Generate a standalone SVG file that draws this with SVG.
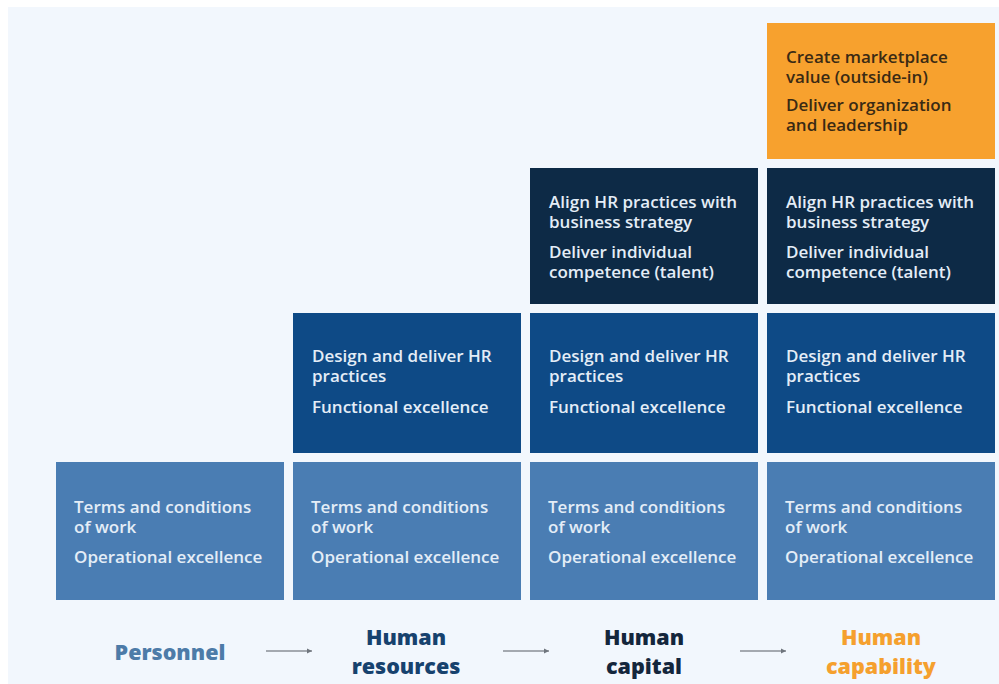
<svg xmlns="http://www.w3.org/2000/svg" width="999" height="684" viewBox="0 0 999 684">
<defs>
<style>
.t{font-family:"Open Sans","Noto Sans","Liberation Sans",sans-serif;font-size:17px;font-weight:600}
.lt{fill:#e4edf7}
.dk{fill:#3a2a14}
.lbl{font-family:"Open Sans","Noto Sans","Liberation Sans",sans-serif;font-size:21.5px;font-weight:800;text-anchor:middle}
.b1{fill:#4a7db3}
.b2{fill:#0e4a86}
.b3{fill:#0d2a46}
.b4{fill:#f7a12e}
.conn{stroke:#8a8f96;stroke-width:1.5;fill:none}
</style>
<marker id="ah" markerWidth="6" markerHeight="6" refX="5" refY="3" orient="auto" markerUnits="userSpaceOnUse">
<path d="M0,0.5 L5,3 L0,5.5 Z" fill="#6f757d"/>
</marker>
</defs>
<rect x="8" y="7" width="991" height="677" fill="#f2f7fd"/>

<g id="p-terms"><rect class="b1" x="56" y="462" width="228" height="138"/>
<text class="t lt" x="74" y="513">Terms and conditions</text><text class="t lt" x="74" y="533">of work</text><text class="t lt" x="74" y="563">Operational excellence</text></g>

<g id="hr-terms"><rect class="b1" x="293" y="462" width="228" height="138"/>
<text class="t lt" x="311" y="513">Terms and conditions</text><text class="t lt" x="311" y="533">of work</text><text class="t lt" x="311" y="563">Operational excellence</text></g>

<g id="hc-terms"><rect class="b1" x="530" y="462" width="228" height="138"/>
<text class="t lt" x="548" y="513">Terms and conditions</text><text class="t lt" x="548" y="533">of work</text><text class="t lt" x="548" y="563">Operational excellence</text></g>

<g id="cap-terms"><rect class="b1" x="767" y="462" width="228" height="138"/>
<text class="t lt" x="785" y="513">Terms and conditions</text><text class="t lt" x="785" y="533">of work</text><text class="t lt" x="785" y="563">Operational excellence</text></g>

<g id="hr-design"><rect class="b2" x="293" y="313" width="228" height="140"/>
<text class="t lt" x="312" y="362">Design and deliver HR</text><text class="t lt" x="312" y="382">practices</text><text class="t lt" x="312" y="413">Functional excellence</text></g>

<g id="hc-design"><rect class="b2" x="530" y="313" width="228" height="140"/>
<text class="t lt" x="549" y="362">Design and deliver HR</text><text class="t lt" x="549" y="382">practices</text><text class="t lt" x="549" y="413">Functional excellence</text></g>

<g id="cap-design"><rect class="b2" x="767" y="313" width="228" height="140"/>
<text class="t lt" x="786" y="362">Design and deliver HR</text><text class="t lt" x="786" y="382">practices</text><text class="t lt" x="786" y="413">Functional excellence</text></g>

<g id="hc-align"><rect class="b3" x="530" y="168" width="228" height="136"/>
<text class="t lt" x="549" y="208">Align HR practices with</text><text class="t lt" x="549" y="228">business strategy</text><text class="t lt" x="549" y="258">Deliver individual</text><text class="t lt" x="549" y="278">competence (talent)</text></g>

<g id="cap-align"><rect class="b3" x="767" y="168" width="228" height="136"/>
<text class="t lt" x="786" y="208">Align HR practices with</text><text class="t lt" x="786" y="228">business strategy</text><text class="t lt" x="786" y="258">Deliver individual</text><text class="t lt" x="786" y="278">competence (talent)</text></g>

<g id="cap-market"><rect class="b4" x="767" y="23" width="228" height="136"/>
<text class="t dk" x="786" y="63">Create marketplace</text><text class="t dk" x="786" y="83">value (outside-in)</text><text class="t dk" x="786" y="111">Deliver organization</text><text class="t dk" x="786" y="131">and leadership</text></g>

<g id="lbl-personnel"><text class="lbl" x="170" y="660" fill="#4d7ba8">Personnel</text></g>
<g id="lbl-hr"><text class="lbl" fill="#17426e"><tspan x="406" y="645">Human</tspan><tspan x="406" y="674">resources</tspan></text></g>
<g id="lbl-hc"><text class="lbl" fill="#14263c"><tspan x="644" y="645">Human</tspan><tspan x="644" y="674">capital</tspan></text></g>
<g id="lbl-cap"><text class="lbl" fill="#f5a02e"><tspan x="881" y="645">Human</tspan><tspan x="881" y="674">capability</tspan></text></g>

<g id="connectors">
<line class="conn" x1="266" y1="651" x2="312" y2="651" marker-end="url(#ah)"/>
<line class="conn" x1="503" y1="651" x2="549" y2="651" marker-end="url(#ah)"/>
<line class="conn" x1="740" y1="651" x2="786" y2="651" marker-end="url(#ah)"/>
</g>
</svg>
